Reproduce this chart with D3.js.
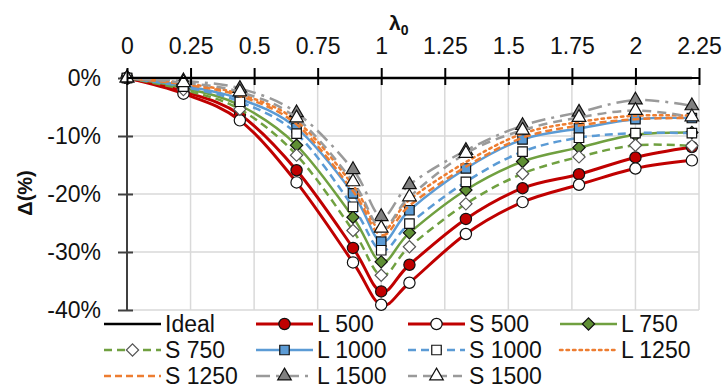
<!DOCTYPE html>
<html>
<head>
<meta charset="utf-8">
<script src="https://cdn.jsdelivr.net/npm/d3@7"></script>
<style>
  body { margin: 0; background: #fff; }
  text { font-family: Arial, "Liberation Sans", sans-serif; fill: #111; }
</style>
</head>
<body>
<div id="chart"></div>
<script>
// chart data
var lambda0 = [0, 0.222, 0.444, 0.667, 0.889, 1.0, 1.111, 1.333, 1.556, 1.778, 2.0, 2.222];
var ideal  = [0, 0, 0, 0, 0, 0, 0, 0, 0, 0, 0, 0];
var l500   = [0, -2.3, -6.3, -15.9, -29.3, -36.8, -32.2, -24.3, -19.0, -16.6, -13.7, -11.9];
var s500   = [0, -2.7, -7.3, -18.0, -31.8, -39.1, -35.3, -26.9, -21.4, -18.4, -15.6, -14.2];
var l750   = [0, -1.7, -4.7, -11.6, -24.0, -31.7, -26.7, -19.3, -14.4, -12.0, -9.8, -9.4];
var s750   = [0, -2.0, -5.4, -13.3, -26.3, -34.0, -29.1, -21.7, -16.5, -13.6, -11.6, -11.7];
var l1000  = [0, -1.3, -3.6, -8.6, -19.9, -28.2, -22.8, -15.6, -10.6, -8.7, -7.1, -6.9];
var s1000  = [0, -1.5, -4.1, -9.6, -22.2, -29.7, -25.1, -17.9, -12.7, -10.3, -9.5, -9.5];
var l1250  = [0, -0.9, -2.8, -7.4, -18.5, -26.3, -21.0, -14.5, -9.6, -7.6, -6.5, -6.5];
var s1250  = [0, -1.1, -3.1, -8.0, -19.5, -27.1, -22.0, -15.3, -10.3, -8.2, -7.1, -6.9];
var l1500  = [0, -0.5, -1.8, -6.0, -15.8, -23.9, -18.4, -12.5, -8.2, -5.9, -3.8, -4.8];
var s1500  = [0, -0.8, -2.4, -6.9, -17.9, -25.9, -20.5, -13.0, -9.0, -6.8, -5.6, -6.7];

var xTicks = [0, 0.25, 0.5, 0.75, 1, 1.25, 1.5, 1.75, 2, 2.25];
var xTickLabels = ["0", "0.25", "0.5", "0.75", "1", "1.25", "1.5", "1.75", "2", "2.25"];
var yTicks = [0, -10, -20, -30, -40];
var yTickLabels = ["0%", "-10%", "-20%", "-30%", "-40%"];

var seriesNames = ["Ideal", "L 500", "S 500", "L 750", "S 750", "L 1000", "S 1000", "L 1250", "S 1250", "L 1500", "S 1500"];
var seriesValues = [ideal, l500, s500, l750, s750, l1000, s1000, l1250, s1250, l1500, s1500];

// look of each series
var styles = [
  {color: "#000000", width: 2.5, dash: null, marker: null},
  {color: "#c00000", width: 3, dash: null, marker: "circle", fill: "#c00000"},
  {color: "#c00000", width: 3, dash: null, marker: "circle", fill: "#ffffff"},
  {color: "#70a040", width: 2.5, dash: null, marker: "diamond", fill: "#5f8f34"},
  {color: "#70a040", width: 2.5, dash: "8,5", marker: "diamond", fill: "#ffffff", stroke: "#555"},
  {color: "#5b9bd5", width: 2.5, dash: null, marker: "square", fill: "#5b9bd5"},
  {color: "#5b9bd5", width: 2.5, dash: "8,5", marker: "square", fill: "#ffffff"},
  {color: "#ed7d31", width: 2.5, dash: "2.5,4", marker: null},
  {color: "#ed7d31", width: 2.5, dash: "7,4", marker: null},
  {color: "#9a9a9a", width: 2.5, dash: "14,6,3,6", marker: "triangle", fill: "#808080"},
  {color: "#9a9a9a", width: 2.5, dash: "9,6", marker: "triangle", fill: "#ffffff"}
];

var svgWidth = 725;
var svgHeight = 391;

var svg = d3.select("#chart")
  .append("svg")
  .attr("width", svgWidth)
  .attr("height", svgHeight);

var x = d3.scaleLinear().domain([0, 2.25]).range([127, 699]);
var y = d3.scaleLinear().domain([-40, 0]).range([310, 78]);

// gridlines
var grid = svg.append("g");
grid.selectAll(".vgrid")
  .data(xTicks.slice(1))
  .enter()
  .append("line")
  .attr("x1", d => x(d)).attr("x2", d => x(d))
  .attr("y1", y(0)).attr("y2", y(-40))
  .attr("stroke", "#d9d9d9").attr("stroke-width", 1.5);
grid.selectAll(".hgrid")
  .data(yTicks.slice(1))
  .enter()
  .append("line")
  .attr("x1", x(0)).attr("x2", x(2.25))
  .attr("y1", d => y(d)).attr("y2", d => y(d))
  .attr("stroke", "#d9d9d9").attr("stroke-width", 1.5);

// axes
var topAxis = d3.axisTop(x)
  .tickValues(xTicks)
  .tickFormat((d, i) => xTickLabels[i])
  .tickSize(10)
  .tickPadding(14);

var xAxisG = svg.append("g")
  .attr("transform", `translate(0, ${y(0)})`)
  .call(topAxis);
xAxisG.select(".domain").attr("stroke", "#000").attr("stroke-width", 2).attr("d", `M${x(0)},0H${x(2.25)}`);
xAxisG.selectAll(".tick line").attr("y1", -10).attr("y2", 7).attr("stroke", "#000").attr("stroke-width", 2);
xAxisG.selectAll(".tick text").style("font-size", "23px").attr("fill", "#111");

var leftAxis = d3.axisLeft(y)
  .tickValues(yTicks)
  .tickFormat((d, i) => yTickLabels[i])
  .tickSize(9)
  .tickPadding(17);

var yAxisG = svg.append("g")
  .attr("transform", `translate(${x(0)}, 0)`)
  .call(leftAxis);
yAxisG.select(".domain").attr("stroke", "#404040").attr("stroke-width", 2).attr("d", `M0,${y(0)}V${y(-40)}`);
yAxisG.selectAll(".tick line").attr("x1", -9).attr("x2", 6).attr("stroke", "#404040").attr("stroke-width", 2);
yAxisG.selectAll(".tick text").style("font-size", "23px").attr("fill", "#111");

// axis titles
var xTitle = svg.append("text")
  .attr("x", 389)
  .attr("y", 30)
  .style("font-size", "21px")
  .style("font-weight", "bold");
xTitle.append("tspan").text("λ");
xTitle.append("tspan").attr("dy", 5).style("font-size", "14px").text("0");

svg.append("text")
  .attr("transform", "translate(32, 193) rotate(-90)")
  .attr("text-anchor", "middle")
  .style("font-size", "20px")
  .style("font-weight", "bold")
  .text("Δ(%)");

// markers (diamond = square turned 45 degrees, like Excel)
var symbolTypes = {
  circle: d3.symbolCircle,
  diamond: d3.symbolSquare,
  square: d3.symbolSquare,
  triangle: d3.symbolTriangle
};
var symbolSizes = {circle: 100, diamond: 75, square: 90, triangle: 80};

function drawMarker(g, st, tx, ty) {
  var rot = st.marker === "diamond" ? " rotate(45)" : "";
  return g.append("path")
    .attr("d", d3.symbol().type(symbolTypes[st.marker]).size(symbolSizes[st.marker])())
    .attr("transform", `translate(${tx}, ${ty})${rot}`)
    .attr("fill", st.fill)
    .attr("stroke", st.stroke || "#111")
    .attr("stroke-width", 1.2);
}

var line = d3.line()
  .x((d, i) => x(lambda0[i]))
  .y(d => y(d))
  .curve(d3.curveCardinal.tension(0));

var plot = svg.append("g");
seriesValues.forEach(function(vals, k) {
  var st = styles[k];
  var g = plot.append("g");
  g.append("path")
    .attr("d", line(vals))
    .attr("fill", "none")
    .attr("stroke", st.color)
    .attr("stroke-width", st.width)
    .attr("stroke-dasharray", st.dash)
    .attr("stroke-linecap", st.dash && st.dash.startsWith("2.5") ? "round" : "butt");
  if (st.marker) {
    vals.forEach(function(v, i) {
      drawMarker(g, st, x(lambda0[i]), y(v));
    });
  }
});

// the top axis sits above the Ideal line
xAxisG.raise();

// legend, 4 columns
var legend = svg.append("g");
seriesNames.forEach(function(name, k) {
  var st = styles[k];
  var col = k % 4, row = Math.floor(k / 4);
  var lx = 104 + col * 152;
  var ly = 324 + row * 26;
  var g = legend.append("g").attr("transform", `translate(${lx}, ${ly})`);
  g.append("line")
    .attr("x1", 0).attr("x2", 57)
    .attr("stroke", st.color)
    .attr("stroke-width", st.width)
    .attr("stroke-dasharray", st.dash)
    .attr("stroke-linecap", st.dash && st.dash.startsWith("2.5") ? "round" : "butt");
  if (st.marker) {
    drawMarker(g, st, 28.5, 0);
  }
  g.append("text")
    .attr("x", 61)
    .attr("dy", "0.35em")
    .style("font-size", "23px")
    .text(name);
});
</script>
</body>
</html>
